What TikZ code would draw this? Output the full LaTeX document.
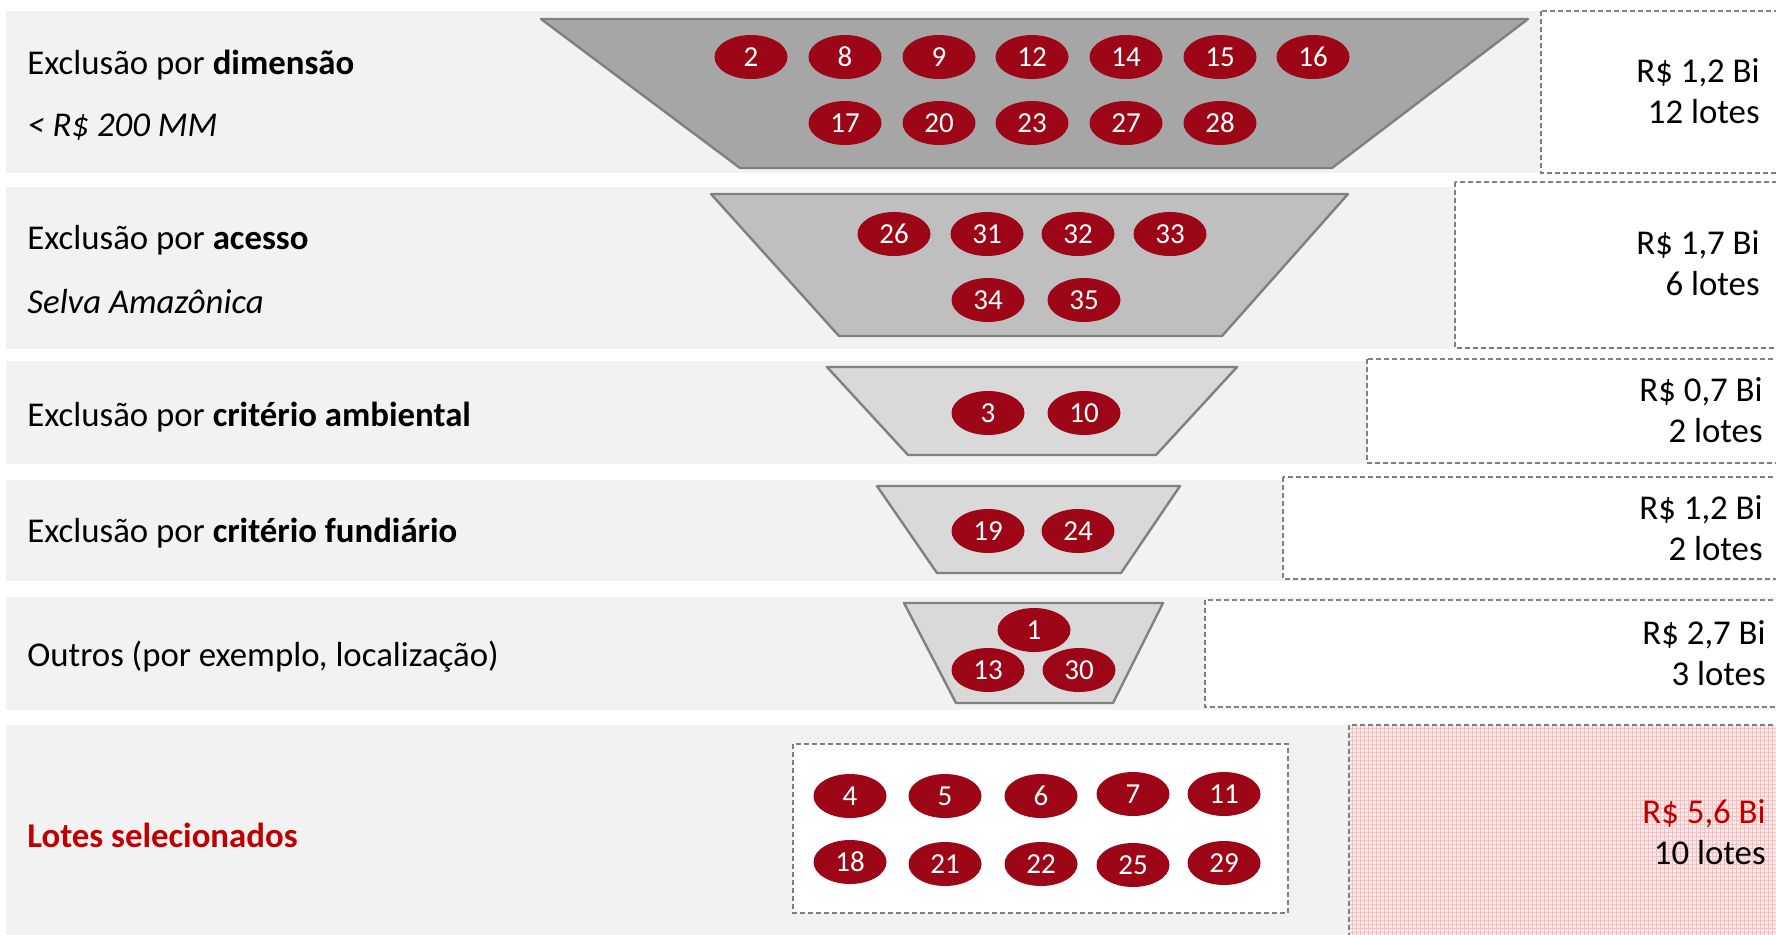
\documentclass[tikz,border=0pt]{standalone}
\usepackage{fontspec}
\setmainfont{Carlito}
\usetikzlibrary{shapes.geometric,positioning}

\definecolor{faixa}{HTML}{F2F2F2}
\definecolor{borda}{HTML}{808080}
\definecolor{funil1}{HTML}{A6A6A6}
\definecolor{funil2}{HTML}{BFBFBF}
\definecolor{funil3}{HTML}{D9D9D9}
\definecolor{vinho}{HTML}{9C0616}
\definecolor{vermelho}{HTML}{C00000}
\definecolor{rosa}{HTML}{FCE9E9}
\definecolor{rosagrade}{HTML}{F6BFBF}

\begin{document}
\begin{tikzpicture}[x=0.5pt, y=-0.5pt]
                       \tikzstyle{faixa}=[fill=faixa, draw=none]
                       \tikzstyle{funil}=[draw=borda, line width=1.2pt, line join=round]
                       \tikzstyle{lote}=[ellipse, fill=vinho, text=white, inner sep=0pt, minimum width=36.5pt, minimum height=22pt, font=\fontsize{14.5}{16}\selectfont]
                       \tikzstyle{caixa}=[draw=borda, fill=white, line width=0.9pt, dash pattern=on 2.5pt off 1.5pt]
                       \tikzstyle{rotulo}=[anchor=west, inner sep=0pt, font=\fontsize{17.4}{21}\selectfont]
                       \tikzstyle{valor}=[anchor=east, align=right, inner sep=0pt, font=\fontsize{17.4}{20.5}\selectfont]

                        \useasboundingbox (0,0) rectangle (1776,934);
                        \clip (0,0) rectangle (1776,934);

                        % Faixas
                        \fill[faixa] (6,11) rectangle (1776,173);
                        \fill[faixa] (6,187) rectangle (1776,349);
                        \fill[faixa] (6,361) rectangle (1776,464);
                        \fill[faixa] (6,480) rectangle (1776,581);
                        \fill[faixa] (6,597) rectangle (1776,710);
                        \fill[faixa] (6,725) rectangle (1776,940);

                        % Funis
                        \draw[funil, fill=funil1] (541,19) -- (1528,19) -- (1332,168) -- (740,168) -- cycle;
                        \draw[funil, fill=funil2] (711,194) -- (1348,194) -- (1222,336) -- (839,336) -- cycle;
                        \draw[funil, fill=funil3] (827,367) -- (1237,367) -- (1156,455) -- (908,455) -- cycle;
                        \draw[funil, fill=funil3] (877,486) -- (1180,486) -- (1121,573) -- (937,573) -- cycle;
                        \draw[funil, fill=funil3] (904,603) -- (1163,603) -- (1113,703) -- (956,703) -- cycle;

                        % Caixas de valores
                        \draw[caixa] (1541,11) rectangle (1790,173);
                        \draw[caixa] (1455,182) rectangle (1790,348);
                        \draw[caixa] (1367,359) rectangle (1790,463);
                        \draw[caixa] (1283,477) rectangle (1790,579);
                        \draw[caixa] (1205,600) rectangle (1790,707);
                        \fill[rosa] (1349,725) rectangle (1790,940);
                        \draw[rosagrade, line width=0.25pt, step=2pt] (1349,725) grid (1790,940);
                        \draw[caixa, fill=none] (1349,725) rectangle (1790,940);
                        \draw[caixa] (793,744) rectangle (1288,913);

                        % Rótulos
                        \node[rotulo] (r1a) at (27,65) {Exclusão por \textbf{dimensão}};
                        \node[rotulo] (r1b) at (27,127) {\textit{< R\$ 200 MM}};
                        \node[rotulo] (r2a) at (27,240) {Exclusão por \textbf{acesso}};
                        \node[rotulo] (r2b) at (27,302) {\textit{Selva Amazônica}};
                        \node[rotulo] (r3) at (27,417) {Exclusão por \textbf{critério ambiental}};
                        \node[rotulo] (r4) at (27,533) {Exclusão por \textbf{critério fundiário}};
                        \node[rotulo] (r5) at (27,657) {Outros (por exemplo, localização)};
                        \node[rotulo, text=vermelho, font=\fontsize{17.4}{21}\selectfont\bfseries] (r6) at (27,835) {Lotes selecionados};

                        % Valores
                        \node[valor] (v1) at (1760,91) {R\$ 1,2 Bi\\12 lotes};
                        \node[valor] (v2) at (1760,263) {R\$ 1,7 Bi\\6 lotes};
                        \node[valor] (v3) at (1763,410) {R\$ 0,7 Bi\\2 lotes};
                        \node[valor] (v4) at (1763,528) {R\$ 1,2 Bi\\2 lotes};
                        \node[valor] (v5) at (1766,653) {R\$ 2,7 Bi\\3 lotes};
                        \node[valor] (v6) at (1766,832) {\textcolor{vermelho}{R\$ 5,6 Bi}\\10 lotes};

                        % Lotes
                        \foreach \x/\y/\n in {751/57/2, 845/57/8, 939/57/9, 1032/57/12, 1126/57/14, 1220/57/15, 1313/57/16,
                                              845/123/17, 939/123/20, 1032/123/23, 1126/123/27, 1220/123/28,
                                              894/234/26, 987/234/31, 1078/234/32, 1170/234/33, 988/300/34, 1084/300/35,
                                              988/413/3, 1084/413/10, 988/531/19, 1078/531/24,
                                              1034/630/1, 988/670/13, 1079/670/30,
                                              850/796/4, 945/796/5, 1041/796/6, 1133/794/7, 1224/794/11,
                                              850/862/18, 945/864/21, 1041/864/22, 1133/865/25, 1224/863/29}
                            \node[lote] (l\n) at (\x,\y) {\n};
                  \end{tikzpicture}
\end{document}
